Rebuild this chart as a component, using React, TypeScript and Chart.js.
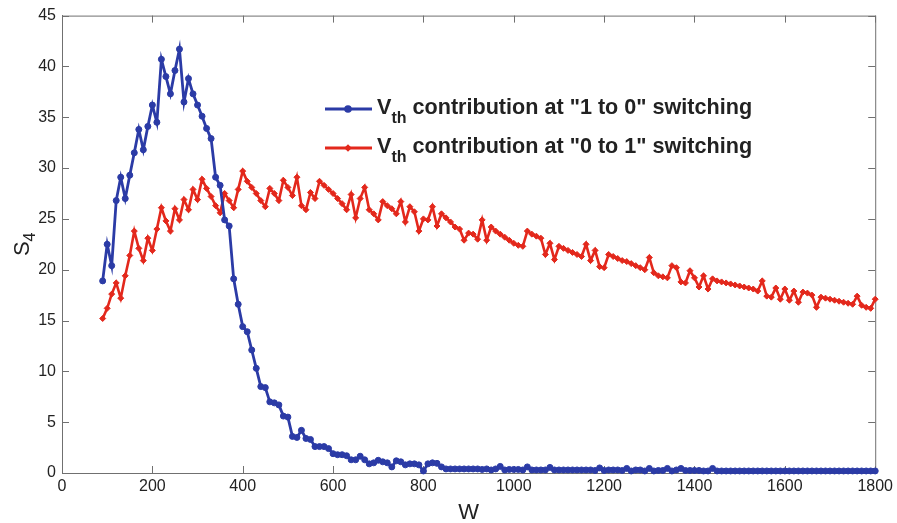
import React, { useEffect, useRef } from 'react';
import { Chart, registerables } from 'chart.js';

Chart.register(...registerables);

// W values (x)
const W = [
  90, 100, 110, 120, 130, 140, 150, 160, 170, 180, 190,
  200, 210, 220, 230, 240, 250, 260, 270, 280, 290,
  300, 310, 320, 330, 340, 350, 360, 370, 380, 390,
  400, 410, 420, 430, 440, 450, 460, 470, 480, 490,
  500, 510, 520, 530, 540, 550, 560, 570, 580, 590,
  600, 610, 620, 630, 640, 650, 660, 670, 680, 690,
  700, 710, 720, 730, 740, 750, 760, 770, 780, 790,
  800, 810, 820, 830, 840, 850, 860, 870, 880, 890,
  900, 910, 920, 930, 940, 950, 960, 970, 980, 990,
  1000, 1010, 1020, 1030, 1040, 1050, 1060, 1070, 1080, 1090,
  1100, 1110, 1120, 1130, 1140, 1150, 1160, 1170, 1180, 1190,
  1200, 1210, 1220, 1230, 1240, 1250, 1260, 1270, 1280, 1290,
  1300, 1310, 1320, 1330, 1340, 1350, 1360, 1370, 1380, 1390,
  1400, 1410, 1420, 1430, 1440, 1450, 1460, 1470, 1480, 1490,
  1500, 1510, 1520, 1530, 1540, 1550, 1560, 1570, 1580, 1590,
  1600, 1610, 1620, 1630, 1640, 1650, 1660, 1670, 1680, 1690,
  1700, 1710, 1720, 1730, 1740, 1750, 1760, 1770, 1780, 1790,
  1800,
];

// "1 to 0" switching (blue)
const S4_1to0 = [
  18.9, 22.5, 20.4, 26.8, 29.1, 27.0, 29.3, 31.5, 33.8, 31.8, 34.1,
  36.2, 34.5, 40.7, 39.0, 37.3, 39.6, 41.7, 36.5, 38.8, 37.3,
  36.2, 35.1, 33.9, 32.9, 29.1, 28.3, 24.9, 24.3, 19.1, 16.6,
  14.4, 13.9, 12.1, 10.3, 8.5, 8.4, 7.0, 6.9, 6.7, 5.6,
  5.5, 3.6, 3.5, 4.2, 3.4, 3.3, 2.6, 2.6, 2.6, 2.4,
  1.9, 1.8, 1.8, 1.7, 1.3, 1.3, 1.65, 1.3, 0.9, 1.0,
  1.25, 1.1, 1.0, 0.6, 1.2, 1.1, 0.8, 0.9, 0.9, 0.8,
  0.2, 0.9, 1.0, 0.95, 0.6, 0.4, 0.4, 0.4, 0.4, 0.4,
  0.4, 0.4, 0.4, 0.35, 0.4, 0.3, 0.4, 0.65, 0.3, 0.35,
  0.35, 0.35, 0.3, 0.6, 0.3, 0.3, 0.3, 0.3, 0.55, 0.3,
  0.3, 0.3, 0.3, 0.3, 0.3, 0.3, 0.3, 0.3, 0.25, 0.5,
  0.25, 0.3, 0.3, 0.3, 0.25, 0.45, 0.2, 0.3, 0.3, 0.2,
  0.45, 0.2, 0.25, 0.25, 0.45, 0.2, 0.3, 0.45, 0.25, 0.25,
  0.25, 0.25, 0.2, 0.2, 0.45, 0.2, 0.2, 0.2, 0.2, 0.2,
  0.2, 0.2, 0.2, 0.2, 0.2, 0.2, 0.2, 0.2, 0.2, 0.2,
  0.2, 0.2, 0.2, 0.2, 0.2, 0.2, 0.2, 0.2, 0.2, 0.2,
  0.2, 0.2, 0.2, 0.2, 0.2, 0.2, 0.2, 0.2, 0.2, 0.2,
  0.2,
];

// "0 to 1" switching (red)
const S4_0to1 = [
  15.2, 16.2, 17.6, 18.7, 17.2, 19.4, 21.4, 23.8, 22.1, 20.9, 23.1,
  21.9, 24.0, 26.1, 24.8, 23.8, 26.0, 24.9, 26.9, 25.9, 27.9,
  26.9, 28.9, 28.0, 27.2, 26.3, 25.6, 27.5, 26.8, 26.1, 27.9,
  29.7, 28.7, 28.1, 27.5, 26.8, 26.2, 28.0, 27.5, 26.8, 28.8,
  28.1, 27.3, 29.1, 26.3, 25.9, 27.6, 27.0, 28.7, 28.3, 27.9,
  27.5, 27.0, 26.5, 25.9, 27.4, 25.1, 27.0, 28.1, 25.9, 25.5,
  24.9, 26.7, 26.3, 26.0, 25.5, 26.7, 24.7, 26.2, 25.7, 23.8,
  25.0, 24.9, 26.2, 24.3, 25.5, 25.1, 24.7, 24.2, 24.0, 22.9,
  23.6, 23.5, 23.0, 24.9, 22.9, 24.2, 23.8, 23.5, 23.2, 22.9,
  22.6, 22.4, 22.3, 23.8, 23.5, 23.3, 23.1, 21.5, 22.6, 21.0,
  22.3, 22.1, 21.9, 21.7, 21.5, 21.3, 22.5, 20.9, 21.9, 20.3,
  20.2, 21.5, 21.3, 21.1, 20.9, 20.8, 20.6, 20.4, 20.2, 20.0,
  21.2, 19.7, 19.4, 19.3, 19.2, 20.4, 20.2, 18.8, 18.7, 19.9,
  19.2, 18.3, 19.4, 18.1, 19.1, 18.9, 18.8, 18.7, 18.6, 18.5,
  18.4, 18.3, 18.2, 18.1, 17.9, 18.9, 17.4, 17.3, 18.2, 17.1,
  18.1, 17.0, 17.9, 16.8, 17.8, 17.7, 17.5, 16.3, 17.3, 17.2,
  17.1, 17.0, 16.9, 16.8, 16.7, 16.6, 17.4, 16.5, 16.3, 16.2,
  17.1,
];

const X_TICKS = [0, 200, 400, 600, 800, 1000, 1200, 1400, 1600, 1800];
const Y_TICKS = [0, 5, 10, 15, 20, 25, 30, 35, 40, 45];

const LEGEND_SUFFIX_1 = ' contribution at "1 to 0" switching';
const LEGEND_SUFFIX_2 = ' contribution at "0 to 1" switching';

const BLUE = '#2b3ba6';
const RED = '#e3281c';
const AXIS = '#707070';
const TEXT = '#222222';
const SANS = "'Liberation Sans', Arial, Helvetica, sans-serif";

const framePlugin = {
  id: 'frameTicks',
  beforeDatasetsDraw(chart: any) {
    const { ctx, chartArea } = chart;
    const { left, right, top, bottom } = chartArea;
    const xs = chart.scales.x;
    const ys = chart.scales.y;
    ctx.save();
    ctx.strokeStyle = AXIS;
    ctx.lineWidth = 1;
    ctx.strokeRect(left + 0.5, top + 0.5, right - left, bottom - top);
    const L = 7;
    ctx.beginPath();
    X_TICKS.forEach((v) => {
      const px = Math.round(xs.getPixelForValue(v)) + 0.5;
      ctx.moveTo(px, bottom);
      ctx.lineTo(px, bottom - L);
      ctx.moveTo(px, top);
      ctx.lineTo(px, top + L);
    });
    Y_TICKS.forEach((v) => {
      const py = Math.round(ys.getPixelForValue(v)) + 0.5;
      ctx.moveTo(left, py);
      ctx.lineTo(left + L, py);
      ctx.moveTo(right, py);
      ctx.lineTo(right - L, py);
    });
    ctx.stroke();
    ctx.restore();
  },
};

function drawMarker(ctx: CanvasRenderingContext2D, style: string, x: number, y: number, r: number, color: string) {
  ctx.fillStyle = color;
  ctx.beginPath();
  if (style === 'circle') {
    ctx.arc(x, y, r, 0, Math.PI * 2);
  } else {
    ctx.moveTo(x, y - r);
    ctx.lineTo(x + r, y);
    ctx.lineTo(x, y + r);
    ctx.lineTo(x - r, y);
    ctx.closePath();
  }
  ctx.fill();
}

const textPlugin = {
  id: 'customText',
  afterDraw(chart: any) {
    const { ctx, chartArea } = chart;
    ctx.save();
    // legend
    const rows = [
      { color: BLUE, style: 'circle', y: 109, suffix: LEGEND_SUFFIX_1, r: 3.8 },
      { color: RED, style: 'diamond', y: 148, suffix: LEGEND_SUFFIX_2, r: 3.8 },
    ];
    rows.forEach((row) => {
      ctx.strokeStyle = row.color;
      ctx.lineWidth = 2.8;
      ctx.beginPath();
      ctx.moveTo(325, row.y);
      ctx.lineTo(372, row.y);
      ctx.stroke();
      drawMarker(ctx, row.style, 348, row.y, row.r, row.color);
      ctx.fillStyle = TEXT;
      ctx.textAlign = 'left';
      ctx.textBaseline = 'alphabetic';
      ctx.font = `bold 21.6px ${SANS}`;
      let x = 377;
      ctx.fillText('V', x, row.y + 5);
      x += ctx.measureText('V').width;
      ctx.font = `bold 16px ${SANS}`;
      ctx.fillText('th', x, row.y + 14);
      x += ctx.measureText('th').width;
      ctx.font = `bold 21.6px ${SANS}`;
      ctx.fillText(row.suffix, x, row.y + 5);
    });

    // x-axis title
    ctx.fillStyle = TEXT;
    ctx.font = `22px ${SANS}`;
    ctx.textAlign = 'center';
    ctx.textBaseline = 'alphabetic';
    ctx.fillText('W', (chartArea.left + chartArea.right) / 2, 519);

    // y-axis title S4 (rotated)
    ctx.translate(29, (chartArea.top + chartArea.bottom) / 2);
    ctx.rotate(-Math.PI / 2);
    ctx.font = `22px ${SANS}`;
    const sW = ctx.measureText('S').width;
    ctx.font = `16px ${SANS}`;
    const fW = ctx.measureText('4').width;
    const total = sW + fW;
    ctx.textAlign = 'left';
    ctx.font = `22px ${SANS}`;
    ctx.fillText('S', -total / 2, 0);
    ctx.font = `16px ${SANS}`;
    ctx.fillText('4', -total / 2 + sW, 6);
    ctx.restore();
  },
};

export default function App() {
  const ref = useRef<HTMLCanvasElement>(null);

  useEffect(() => {
    if (!ref.current) return;
    const blueData = W.map((w, i) => ({ x: w, y: S4_1to0[i] }));
    const redData = W.map((w, i) => ({ x: w, y: S4_0to1[i] }));
    const chart = new Chart(ref.current, {
      type: 'line',
      data: {
        datasets: [
          {
            label: 'Vth' + LEGEND_SUFFIX_1,
            data: blueData,
            borderColor: BLUE,
            backgroundColor: BLUE,
            pointBackgroundColor: BLUE,
            pointBorderColor: BLUE,
            borderWidth: 2.8,
            pointRadius: 3,
            pointBorderWidth: 1,
            pointStyle: 'circle',
            tension: 0,
            clip: false as any,
          },
          {
            label: 'Vth' + LEGEND_SUFFIX_2,
            data: redData,
            borderColor: RED,
            backgroundColor: RED,
            pointBackgroundColor: RED,
            pointBorderColor: RED,
            borderWidth: 2.6,
            pointRadius: 3,
            pointBorderWidth: 1,
            pointStyle: 'rectRot',
            tension: 0,
            clip: false as any,
          },
        ],
      },
      options: {
        animation: false,
        responsive: false,
        maintainAspectRatio: false,
        layout: { padding: { top: 9, right: 20, left: 0, bottom: 0 } },
        plugins: {
          legend: { display: false },
          tooltip: { enabled: false },
          title: { display: false },
        },
        scales: {
          x: {
            type: 'linear',
            min: 0,
            max: 1800,
            afterFit: (s: any) => { s.height = 50; },
            afterBuildTicks: (s: any) => { s.ticks = X_TICKS.map((v) => ({ value: v })); },
            ticks: {
              color: TEXT,
              font: { family: SANS, size: 16 },
              padding: 4,
              maxRotation: 0,
              autoSkip: false,
              callback: (v: any) => String(v),
            },
            grid: { display: false, drawTicks: false },
            border: { display: true, color: AXIS, width: 1 },
          },
          y: {
            type: 'linear',
            min: 0,
            max: 45,
            afterFit: (s: any) => { s.width = 62; },
            afterBuildTicks: (s: any) => { s.ticks = Y_TICKS.map((v) => ({ value: v })); },
            ticks: {
              color: TEXT,
              font: { family: SANS, size: 16 },
              padding: 6,
              autoSkip: false,
              callback: (v: any) => String(v),
            },
            grid: { display: false, drawTicks: false },
            border: { display: true, color: AXIS, width: 1 },
          },
        },
      },
      plugins: [framePlugin, textPlugin],
    });
    return () => chart.destroy();
  }, []);

  return (
    <div style={{ position: 'fixed', left: 0, top: 0, width: 897, height: 523, background: '#fff' }}>
      <canvas ref={ref} width={897} height={523} style={{ width: 897, height: 523, display: 'block' }} />
    </div>
  );
}
